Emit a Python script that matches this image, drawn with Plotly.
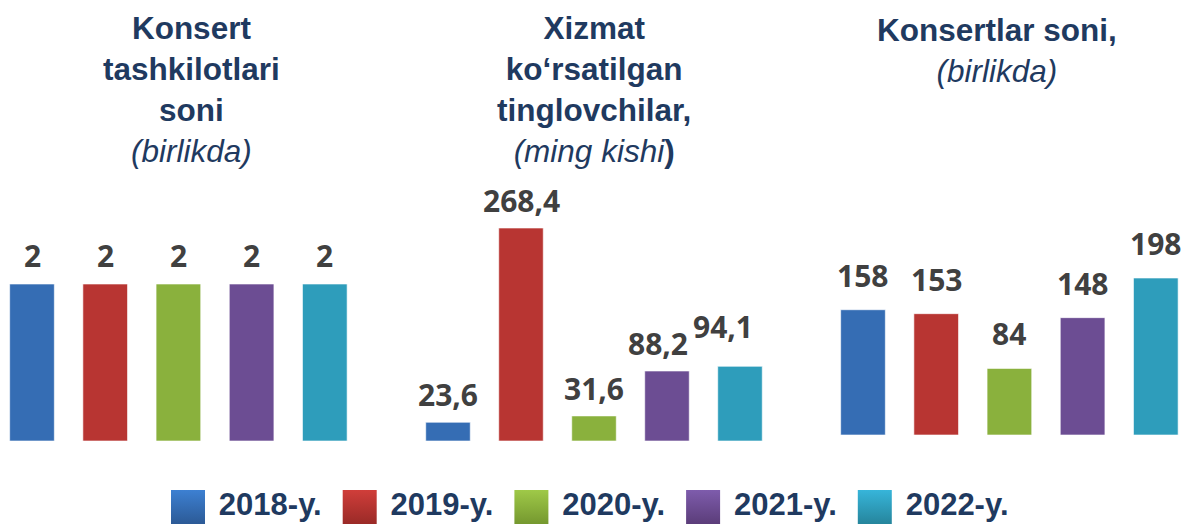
import plotly.graph_objects as go

W, H = 1184, 524

years = ["2018-y.", "2019-y.", "2020-y.", "2021-y.", "2022-y."]
org_counts = [2, 2, 2, 2, 2]
listeners = [23.6, 268.4, 31.6, 88.2, 94.1]
concerts = [158, 153, 84, 148, 198]

title1 = "<b>Konsert<br>tashkilotlari<br>soni</b><br><i>(birlikda)</i>"
title2 = "<b>Xizmat<br>ko‘rsatilgan<br>tinglovchilar,</b><br><i>(ming kishi</i><b>)</b>"
title3 = "<b>Konsertlar soni,</b><br><i>(birlikda)</i>"

top_colors = ["#3D80D2", "#D03E3A", "#9FC948", "#7E5CAC", "#37B5DA"]
bot_colors = ["#2C5A96", "#9A2A27", "#75982F", "#5B3D79", "#26859C"]
mid_colors = ["#356DB4", "#B83532", "#8AB13D", "#6C4D93", "#2E9DBB"]

def fmt(v, dec):
    return (f"{v:.{dec}f}").replace(".", ",")

fig = go.Figure()

def xrange_for(dom, c0, step):
    a, b = dom[0] * W, dom[1] * W
    return [(a - c0) / step, (b - c0) / step]

panels = [
    dict(vals=org_counts, dec=0, xdom=[0.0, 0.32], c0=32.0, step=73.2,
         ydom=[(H - 441) / H, (H - 200) / H], ymax=241 / 78.5, title=title1, tx=191, ty=1 - 8 / H, yshift=6),
    dict(vals=listeners, dec=1, xdom=[0.34, 0.67], c0=448.0, step=73.0,
         ydom=[(H - 441) / H, (H - 200) / H], ymax=241 / (213 / 268.4), title=title2, tx=594, ty=1 - 8 / H, yshift=5),
    dict(vals=concerts, dec=0, xdom=[0.69, 1.0], c0=863.0, step=73.2,
         ydom=[(H - 435) / H, (H - 200) / H], ymax=235 / (157 / 198), title=title3, tx=997, ty=1 - 10 / H, yshift=12),
]

label_nudge = {1: {3: (-9, 0), 4: (-17, 12)}}

for i, p in enumerate(panels):
    xa = "x" if i == 0 else f"x{i+1}"
    ya = "y" if i == 0 else f"y{i+1}"
    fig.add_trace(go.Bar(
        x=years, y=p["vals"], xaxis=xa, yaxis=ya,
        width=0.61,
        marker=dict(color=mid_colors, line=dict(color="rgba(255,255,255,0.6)", width=1)),
        showlegend=False, hoverinfo="skip",
    ))
    for j, (yr, v) in enumerate(zip(years, p["vals"])):
        dx, dy = label_nudge.get(i, {}).get(j, (0, 0))
        fig.add_annotation(
            x=yr, y=v, xref=xa, yref=ya, text=fmt(v, p["dec"]),
            showarrow=False, yanchor="bottom", yshift=p["yshift"] + dy, xshift=dx,
            font=dict(family="Open Sans, DejaVu Sans, sans-serif", size=30, color="#404040", weight="bold"),
        )
    axkey = "xaxis" if i == 0 else f"xaxis{i+1}"
    aykey = "yaxis" if i == 0 else f"yaxis{i+1}"
    fig.update_layout(**{
        axkey: dict(domain=p["xdom"], range=xrange_for(p["xdom"], p["c0"], p["step"]),
                    visible=False, anchor=ya, type="category"),
        aykey: dict(domain=p["ydom"], range=[0, p["ymax"]], visible=False, anchor=xa),
    })
    fig.add_annotation(
        x=p["tx"] / W, y=p["ty"], xref="paper", yref="paper", xanchor="center", yanchor="top",
        text=p["title"], showarrow=False, align="center",
        font=dict(family="Liberation Sans, Arial, sans-serif", size=31.5, color="#1F3A60"),
    )

# legend drawn on a small hidden axis
leg_dom = [0.0, 1.0]
fig.add_trace(go.Scatter(
    x=years, y=[0] * len(years), xaxis="x4", yaxis="y4",
    mode="markers+text", text=["\u00a0" + y for y in years], textposition="middle right",
    marker=dict(symbol="square", size=34, color=top_colors,
                gradient=dict(type="vertical", color=bot_colors), line=dict(width=0)),
    textfont=dict(family="Liberation Sans, Arial, sans-serif", size=31,
                  color="#1F3A60", weight="bold"),
    showlegend=False, hoverinfo="skip", cliponaxis=False,
))
fig.update_layout(
    xaxis4=dict(domain=leg_dom, range=xrange_for(leg_dom, 188.0, 171.7), visible=False,
                anchor="y4", type="category"),
    yaxis4=dict(domain=[0.0, 34 / H], range=[-1, 1], visible=False, anchor="x4"),
)

fig.update_layout(
    width=W, height=H, barmode="overlay",
    margin=dict(l=0, r=0, t=0, b=0),
    paper_bgcolor="white", plot_bgcolor="white",
    showlegend=False,
)

fig.write_html("out.html", config={"displayModeBar": False},
               post_script="document.body.style.margin='0';document.body.style.overflow='hidden';")
